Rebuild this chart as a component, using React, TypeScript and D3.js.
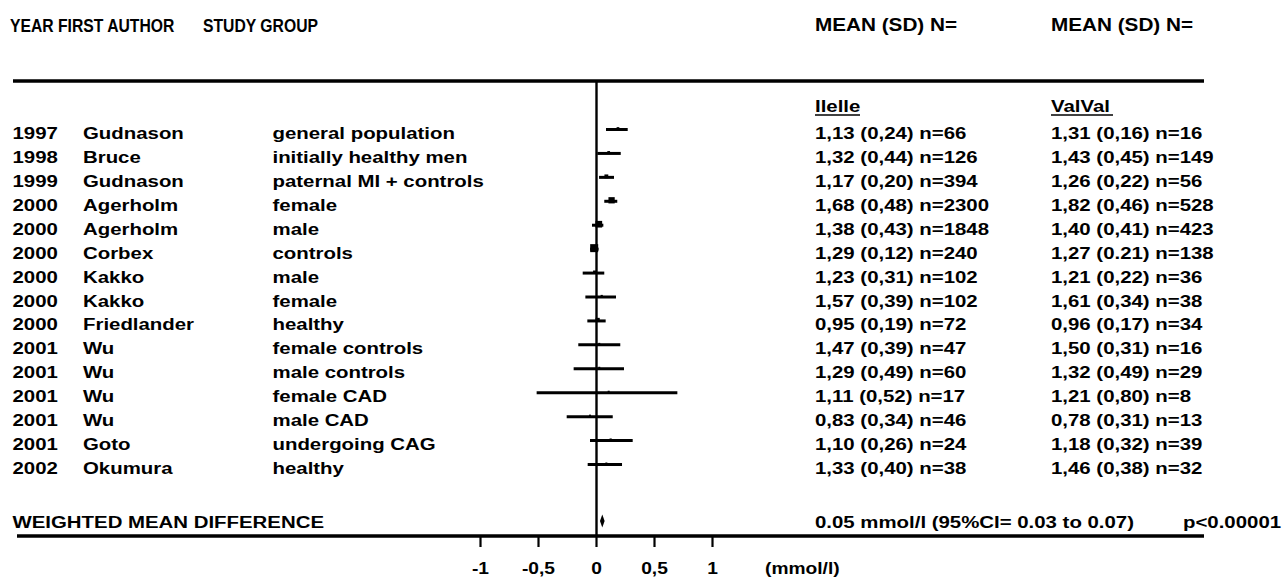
import React from "react";
import * as d3 from "d3";

const years = ["1997","1998","1999","2000","2000","2000","2000","2000","2000","2001","2001","2001","2001","2001","2002"];
const authors = ["Gudnason","Bruce","Gudnason","Agerholm","Agerholm","Corbex","Kakko","Kakko","Friedlander","Wu","Wu","Wu","Wu","Goto","Okumura"];
const groups = ["general population","initially healthy men","paternal MI + controls","female","male","controls","male","female","healthy","female controls","male controls","female CAD","male CAD","undergoing CAG","healthy"];
const ilelle = ["1,13 (0,24) n=66","1,32 (0,44) n=126","1,17 (0,20) n=394","1,68 (0,48) n=2300","1,38 (0,43) n=1848","1,29 (0,12) n=240","1,23 (0,31) n=102","1,57 (0,39) n=102","0,95 (0,19) n=72","1,47 (0,39) n=47","1,29 (0,49) n=60","1,11 (0,52) n=17","0,83 (0,34) n=46","1,10 (0,26) n=24","1,33 (0,40) n=38"];
const valval = ["1,31 (0,16) n=16","1,43 (0,45) n=149","1,26 (0,22) n=56","1,82 (0,46) n=528","1,40 (0,41) n=423","1,27 (0.21) n=138","1,21 (0,22) n=36","1,61 (0,34) n=38","0,96 (0,17) n=34","1,50 (0,31) n=16","1,32 (0,49) n=29","1,21 (0,80) n=8","0,78 (0,31) n=13","1,18 (0,32) n=39","1,46 (0,38) n=32"];
const est = [0.185, 0.105, 0.085, 0.13, 0.02, -0.02, -0.016, 0.045, 0.01, 0.024, 0.024, 0.105, -0.056, 0.122, 0.085];
const lo = [0.082, 0.007, 0.022, 0.067, -0.039, -0.055, -0.119, -0.096, -0.079, -0.157, -0.197, -0.516, -0.257, -0.056, -0.076];
const hi = [0.269, 0.209, 0.151, 0.179, 0.059, 0.018, 0.067, 0.168, 0.079, 0.205, 0.237, 0.697, 0.140, 0.312, 0.220];
const weight = [3, 3, 6, 16, 18, 26, 4, 2, 7, 1, 1, 0.5, 1, 2, 1];
const pooled = { est: 0.05, lo: 0.03, hi: 0.07 };
const tickValues = [-1, -0.5, 0, 0.5, 1];
const tickLabels = ["-1", "-0,5", "0", "0,5", "1"];

const FONT = "'Liberation Sans', Arial, Helvetica, sans-serif";

function T({ x, y, sx = 1.2, size = 17, children, anchor = "start" }: any) {
  return (
    <text
      transform={`translate(${x},${y}) scale(${sx},1)`}
      fontFamily={FONT}
      fontWeight="bold"
      fontSize={size}
      textAnchor={anchor}
      fill="#000"
    >
      {children}
    </text>
  );
}

export default function App() {
  const W = 1284, H = 579;
  const x = d3.scaleLinear().domain([-1, 1]).range([480.5, 712.5]);
  const y = d3.scaleLinear().domain([0, 14]).range([129.5, 464.5]);
  const box = d3.scaleSqrt().domain([0, 26]).range([0, 8]);
  const topY = 81, botY = 536;
  const dx = x(pooled.est), dy = 521;
  const diamond = d3.line()([
    [dx, dy - 6.5], [x(pooled.hi), dy], [dx, dy + 6.5], [x(pooled.lo), dy]
  ] as [number, number][]) + "Z";

  return (
    <svg width={W} height={H} style={{ position: "absolute", left: 0, top: 0, background: "#fff" }}>
      <rect width={W} height={H} fill="#fff" />
      {/* headers */}
      <T x={10} y={31.5} size={18.5} sx={0.85}>YEAR</T>
      <T x={58} y={31.5} size={18.5} sx={0.85}>FIRST AUTHOR</T>
      <T x={203} y={31.5} size={18.5} sx={0.85}>STUDY GROUP</T>
      <T x={815} y={30.5} size={18.5} sx={1.12}>MEAN (SD) N=</T>
      <T x={1051} y={30.5} size={18.5} sx={1.12}>MEAN (SD) N=</T>

      <line x1={13} x2={1204} y1={topY} y2={topY} stroke="#000" strokeWidth={3.5} />
      <line x1={17} x2={1204} y1={botY} y2={botY} stroke="#000" strokeWidth={3.5} />
      <line x1={x(0)} x2={x(0)} y1={topY} y2={botY} stroke="#000" strokeWidth={2.4} />

      <T x={815} y={112}>Ilelle</T>
      <line x1={815} x2={860} y1={115} y2={115} stroke="#000" strokeWidth={1.6} />
      <T x={1051} y={112}>ValVal</T>
      <line x1={1051} x2={1113} y1={115} y2={115} stroke="#000" strokeWidth={1.6} />

      {years.map((yr, i) => {
        const yy = y(i);
        const s = Math.max(box(weight[i]), 2);
        return (
          <g key={i}>
            <T x={12.5} y={yy + 9.5}>{yr}</T>
            <T x={83} y={yy + 9.5}>{authors[i]}</T>
            <T x={272.5} y={yy + 9.5}>{groups[i]}</T>
            <T x={815} y={yy + 9.5}>{ilelle[i]}</T>
            <T x={1051} y={yy + 9.5}>{valval[i]}</T>
            <line x1={x(lo[i])} x2={x(hi[i])} y1={yy} y2={yy} stroke="#000" strokeWidth={3} />
            <rect x={x(est[i]) - s / 2} y={yy - s / 2 - 1} width={s} height={s} fill="#000" />
          </g>
        );
      })}

      <T x={12.5} y={528}>WEIGHTED MEAN DIFFERENCE</T>
      <path d={diamond} fill="#000" />
      <T x={815} y={528}>0.05 mmol/l (95%CI= 0.03 to 0.07)</T>
      <T x={1183} y={528}>p&lt;0.00001</T>

      {tickValues.map((t, i) => (
        <g key={t}>
          <line x1={x(t)} x2={x(t)} y1={botY} y2={547} stroke="#000" strokeWidth={2.2} />
          <T x={x(t)} y={574} size={16} sx={1.2} anchor="middle">{tickLabels[i]}</T>
        </g>
      ))}
      <T x={765} y={574} size={16} sx={1.2}>(mmol/l)</T>
    </svg>
  );
}
